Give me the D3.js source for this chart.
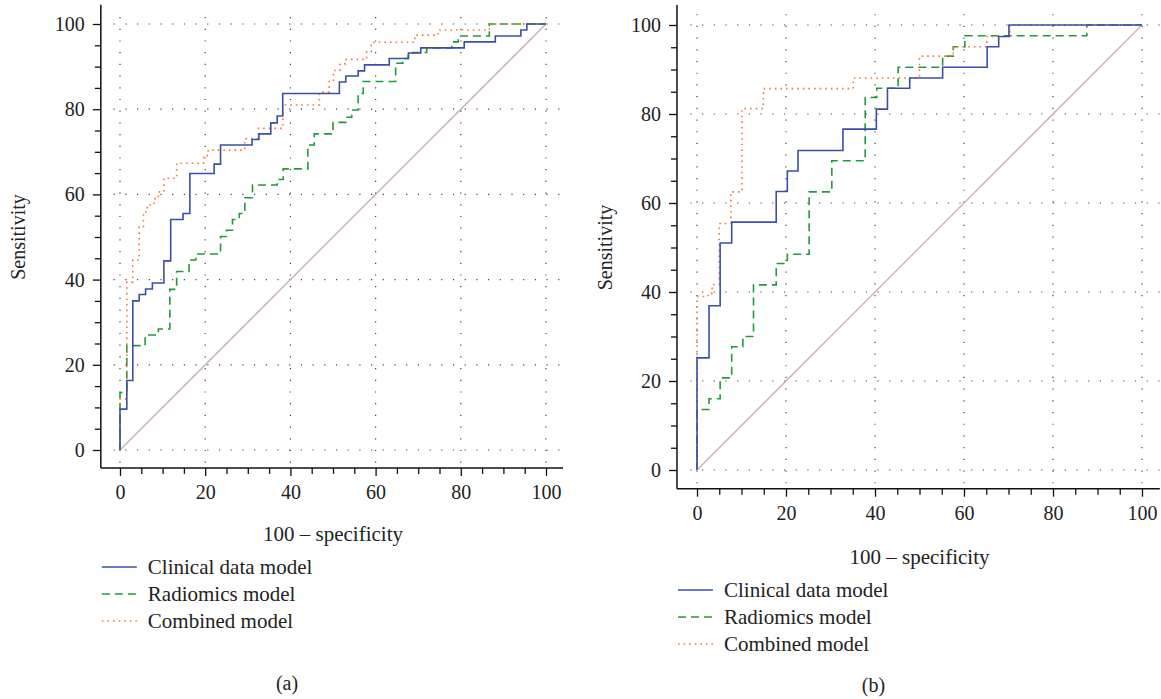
<!DOCTYPE html>
<html>
<head>
<meta charset="utf-8">
<script src="https://cdn.jsdelivr.net/npm/d3@7"></script>
<style>
  body { margin: 0; background: #fff; }
  svg text { font-family: "Liberation Serif", "Times New Roman", "DejaVu Serif", serif; fill: #222; }
</style>
</head>
<body>
<svg id="chart" width="1161" height="699"></svg>
<script>
// ROC points (100 - specificity, sensitivity), drawn as step curves
const tickValues = [0, 20, 40, 60, 80, 100];
const seriesNames = ["Clinical data model", "Radiomics model", "Combined model"];

const clinicalA = [[0,0],[1.6,9.6],[3.0,16.3],[4.5,35.0],[6.0,36.5],[7.6,37.8],[10.3,39.2],[11.9,44.4],[14.8,54.1],[16.4,55.5],[22.1,64.9],[23.6,67.1],[31.0,71.6],[32.6,72.9],[35.4,74.2],[36.9,76.8],[38.2,78.4],[51.5,83.7],[53.0,86.4],[55.9,87.8],[57.4,89.0],[63.2,90.4],[67.7,91.9],[70.6,93.2],[80.8,94.4],[88.1,95.8],[94.1,97.2],[95.5,98.6],[100,100]];
const radiomicsA = [[0,0],[1.6,13.5],[5.9,24.5],[9.0,27.0],[11.7,28.4],[13.3,37.7],[16.2,41.9],[17.8,44.6],[23.6,46.0],[25.0,50.1],[26.4,51.6],[28.0,54.1],[29.3,55.5],[31.1,59.2],[36.9,62.2],[38.3,63.5],[44.1,66.0],[45.6,71.6],[50.0,74.2],[53.0,76.9],[54.4,78.1],[55.9,79.8],[57.1,83.7],[64.7,86.5],[66.4,90.8],[67.7,91.9],[72.0,93.3],[77.9,94.4],[79.4,95.8],[86.7,97.2],[100,100]];
const combinedA = [[0,0],[1.6,12.0],[3.0,39.4],[4.5,44.6],[5.5,52.4],[6.4,55.9],[8.0,57.5],[9.0,59.0],[10.3,60.6],[13.3,63.8],[19.6,67.3],[20.7,69.1],[29.3,70.4],[32.5,73.1],[38.2,75.5],[46.8,81.0],[49.1,84.0],[50.1,86.5],[51.6,89.1],[52.8,90.5],[57.9,91.7],[59.0,93.5],[69.2,95.7],[74.7,97.4],[86.7,98.6],[100,100]];

const clinicalB = [[0,0],[2.7,25.2],[5.2,36.9],[7.8,51.0],[17.8,55.7],[20.3,62.6],[22.7,67.2],[32.8,71.8],[40.3,76.6],[42.8,81.1],[47.8,85.8],[55.2,88.1],[65.2,90.5],[67.8,95.1],[70.1,97.4],[100,100]];
const radiomicsB = [[0,0],[2.7,13.6],[5.2,16.0],[7.8,20.7],[10.3,27.7],[12.7,30.0],[17.8,41.6],[20.3,46.4],[25.2,48.5],[30.3,62.5],[37.8,69.5],[40.4,83.7],[45.2,85.8],[55.2,90.5],[57.6,93.0],[60.2,95.1],[87.6,97.6],[100,100]];
const combinedB = [[0,0],[2.5,39.0],[3.4,39.7],[5.0,41.7],[7.6,55.4],[10.1,62.5],[14.9,81.2],[35.1,85.7],[50.0,88.1],[57.6,93.0],[65.1,95.1],[70.3,97.4],[100,100]];

const colors = ["#3a4fa8", "#1f9a3c", "#f07a3a"];
const dashes = [null, "8,5", "1.6,4"];

const svg = d3.select("#chart");

const panels = [
  { label: "(a)", series: [clinicalA, radiomicsA, combinedA],
    xr: [120, 546], yr: [450, 24], sensX: 18, xTitleY: 541, legY: 567, capY: 690 },
  { label: "(b)", series: [clinicalB, radiomicsB, combinedB],
    xr: [697, 1142], yr: [470, 25], sensX: 605, xTitleY: 564, legY: 590, capY: 692 }
];

panels.forEach(p => {
  const x = d3.scaleLinear().domain([0, 100]).range(p.xr);
  const y = d3.scaleLinear().domain([0, 100]).range(p.yr);
  const g = svg.append("g");

  // dotted grid
  g.selectAll(".vgrid").data(tickValues).enter().append("line")
    .attr("x1", d => x(d)).attr("x2", d => x(d))
    .attr("y1", y(-3)).attr("y2", y(104))
    .attr("stroke", "#444").attr("stroke-width", 1.2)
    .attr("stroke-dasharray", "1.2,10.5");
  g.selectAll(".hgrid").data(tickValues).enter().append("line")
    .attr("y1", d => y(d)).attr("y2", d => y(d))
    .attr("x1", x(-1.5)).attr("x2", x(104))
    .attr("stroke", "#444").attr("stroke-width", 1.2)
    .attr("stroke-dasharray", "1.2,10.5");

  // axes
  const minor = d3.range(0, 101, 5);
  const yAxis = g.append("g").attr("transform", `translate(${x(-4.5)},0)`)
    .call(d3.axisLeft(y).tickValues(minor).tickSize(6).tickSizeOuter(0)
      .tickFormat(d => d % 20 === 0 ? d : ""));
  const xAxis = g.append("g").attr("transform", `translate(0,${y(-4.2)})`)
    .call(d3.axisBottom(x).tickValues(minor).tickSize(6).tickSizeOuter(0)
      .tickFormat(d => d % 20 === 0 ? d : ""));
  [yAxis, xAxis].forEach(a => {
    a.attr("font-family", null);
    a.select(".domain").remove();
    a.selectAll("line").attr("stroke", "#111").attr("stroke-width", 1.3);
    a.selectAll("text").style("font-size", "20px").attr("fill", "#222");
  });
  yAxis.selectAll(".tick").filter(d => d % 20 === 0).select("line").attr("x2", -8);
  yAxis.selectAll("text").attr("x", -16);
  xAxis.selectAll(".tick").filter(d => d % 20 === 0).select("line").attr("y2", 8);
  xAxis.selectAll("text").attr("y", 17);

  g.append("line").attr("x1", x(-4.5)).attr("x2", x(-4.5))
    .attr("y1", y(-4.2)).attr("y2", y(104.5))
    .attr("stroke", "#111").attr("stroke-width", 1.5);
  g.append("line").attr("x1", x(-4.5)).attr("x2", x(104))
    .attr("y1", y(-4.2)).attr("y2", y(-4.2))
    .attr("stroke", "#111").attr("stroke-width", 1.5);

  // reference diagonal
  g.append("line").attr("x1", x(0)).attr("y1", y(0)).attr("x2", x(100)).attr("y2", y(100))
    .attr("stroke", "#cfa9ab").attr("stroke-width", 1.3);

  const line = d3.line().x(d => x(d[0])).y(d => y(d[1])).curve(d3.curveStepBefore);
  [1, 2, 0].forEach(i => {
    g.append("path").datum(p.series[i]).attr("d", line)
      .attr("fill", "none").attr("stroke", colors[i]).attr("stroke-width", 1.6)
      .attr("stroke-dasharray", dashes[i]);
  });

  // titles
  const sx = p.sensX, sy = (y(0) + y(100)) / 2;
  g.append("text").attr("transform", `translate(${sx},${sy}) rotate(-90)`)
    .attr("text-anchor", "middle").attr("dy", "0.35em")
    .style("font-size", "20px").text("Sensitivity");
  g.append("text").attr("x", (x(0) + x(100)) / 2).attr("y", p.xTitleY)
    .attr("text-anchor", "middle").style("font-size", "21px").text("100 \u2013 specificity");

  // legend
  seriesNames.forEach((name, i) => {
    const ly = p.legY + i * 27;
    g.append("line").attr("x1", x(-4.5) + 1).attr("x2", x(-4.5) + 36)
      .attr("y1", ly).attr("y2", ly)
      .attr("stroke", colors[i]).attr("stroke-width", 1.5)
      .attr("stroke-dasharray", dashes[i]);
    g.append("text").attr("x", x(-4.5) + 47).attr("y", ly).attr("dy", "0.33em")
      .style("font-size", "21px").text(name);
  });

  g.append("text").attr("x", (x(0) + x(100)) / 2 - 46).attr("y", p.capY)
    .attr("text-anchor", "middle").style("font-size", "20px").text(p.label);
});
</script>
</body>
</html>
